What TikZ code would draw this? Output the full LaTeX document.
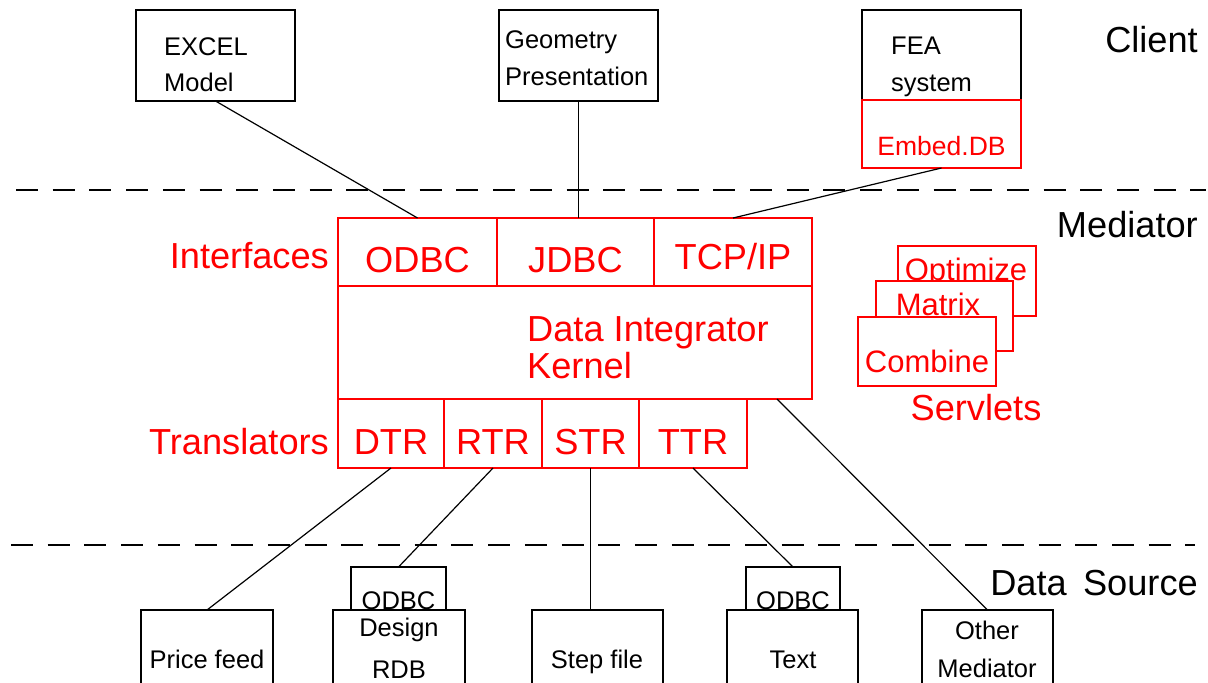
\documentclass[tikz,border=0pt]{standalone}
\usepackage{fontspec}
\setmainfont{Liberation Sans}
\definecolor{dired}{RGB}{255,0,0}
\begin{document}
\begin{tikzpicture}[x=1pt,y=-1pt,
  box/.style={draw=black,line width=1.3pt,anchor=north west,inner sep=0pt,outer sep=0pt},
  rbox/.style={box,draw=dired,fill=white},
  wbox/.style={box,fill=white},
  big/.style={font=\fontsize{36.2}{40}\selectfont},
  small/.style={font=\fontsize{25.5}{30}\selectfont},
  mid/.style={font=\fontsize{31}{34}\selectfont},
  emb/.style={font=\fontsize{26.5}{30}\selectfont},
  lbl/.style={inner sep=0pt,anchor=base},
  lblw/.style={inner sep=0pt,anchor=base west},
  lble/.style={inner sep=0pt,anchor=base east},
  rtext/.style={text=dired},
  conn/.style={line width=1.2pt,draw=black},
  sep/.style={line width=1.3pt,draw=black,dash pattern=on 22pt off 14.7pt}
]
\useasboundingbox (0,0) rectangle (1208,683);
\fill[white] (0,0) rectangle (1208,683);
\clip (0,0) rectangle (1208,683);

% ---------- client tier ----------
\node[box,minimum width=159pt,minimum height=91pt] (excel) at (136,10) {};
\node[lblw,small] (excelA) at (164,55) {EXCEL};
\node[lblw,small] (excelB) at (164,91) {Model};

\node[box,minimum width=159pt,minimum height=91pt] (geo) at (499,10) {};
\node[lblw,small] (geoA) at (505,48) {Geometry};
\node[lblw,small] (geoB) at (505,85) {Presentation};

\node[box,minimum width=159pt,minimum height=90pt] (fea) at (862,10) {};
\node[lblw,small] (feaA) at (891,54) {FEA};
\node[lblw,small] (feaB) at (891,91) {system};
\node[box,draw=dired,minimum width=159pt,minimum height=68pt] (embed) at (862,100) {};
\node[lbl,emb,rtext] (embedT) at (941.5,155) {Embed.DB};

\node[lble,big] (tierC) at (1198,52) {Client};

% ---------- tier separators ----------
\coordinate (d1a) at (16,190);
\coordinate (d1b) at (1206,190);
\coordinate (d2a) at (11,545);
\coordinate (d2b) at (1195,545);
\draw[sep] (d1a) -- (d1b);
\draw[sep] (d2a) -- (d2b);

\node[lble,big] (tierM) at (1198,237) {Mediator};
\node[lble,big] (tierD) at (1198,595) {Data\hspace{0.45em}Source};

% ---------- mediator: interfaces ----------
\node[rbox,minimum width=159pt,minimum height=68pt] (iodbc) at (338,218) {};
\node[rbox,minimum width=157pt,minimum height=68pt] (ijdbc) at (497,218) {};
\node[rbox,minimum width=158pt,minimum height=68pt] (itcp) at (654,218) {};
\node[lbl,big,rtext] (iodbcT) at (417.5,272) {ODBC};
\node[lbl,big,rtext] (ijdbcT) at (575.5,272) {JDBC};
\node[lbl,big,rtext] (itcpT) at (733,269) {TCP/IP};
\node[lble,big,rtext] (ifaceL) at (329,268) {Interfaces};

% ---------- mediator: kernel ----------
\node[rbox,minimum width=474pt,minimum height=113pt] (kernel) at (338,286) {};
\node[lblw,big,rtext] (kernA) at (527,341) {Data Integrator};
\node[lblw,big,rtext] (kernB) at (527,378) {Kernel};

% ---------- mediator: translators ----------
\node[rbox,minimum width=106pt,minimum height=69pt] (dtr) at (338,399) {};
\node[rbox,minimum width=98pt,minimum height=69pt] (rtr) at (444,399) {};
\node[rbox,minimum width=97pt,minimum height=69pt] (str) at (542,399) {};
\node[rbox,minimum width=108pt,minimum height=69pt] (ttr) at (639,399) {};
\node[lbl,big,rtext] (dtrT) at (391,454) {DTR};
\node[lbl,big,rtext] (rtrT) at (493,454) {RTR};
\node[lbl,big,rtext] (strT) at (590.5,454) {STR};
\node[lbl,big,rtext] (ttrT) at (693,454) {TTR};
\node[lble,big,rtext] (transL) at (329,454) {Translators};

% ---------- servlets (stacked) ----------
\node[rbox,minimum width=138pt,minimum height=70pt] (sopt) at (898,246) {};
\node[lbl,mid,rtext] (soptT) at (966,280) {Optimize};
\node[rbox,minimum width=137pt,minimum height=70pt] (smat) at (876,281) {};
\node[lbl,mid,rtext] (smatT) at (938,315) {Matrix};
\node[rbox,minimum width=138pt,minimum height=69pt] (scomb) at (858,317) {};
\node[lbl,mid,rtext] (scombT) at (927,372) {Combine};
\node[lbl,big,rtext] (servL) at (976,420) {Servlets};

% ---------- data sources ----------
\node[wbox,minimum width=132pt,minimum height=100pt] (price) at (141,610) {};
\node[lbl,small] (priceT) at (207,668) {Price feed};

\node[wbox,minimum width=95pt,minimum height=44pt] (odbcA) at (351,567) {};
\node[lbl,small] (odbcAT) at (398.5,609) {ODBC};
\node[wbox,minimum width=132pt,minimum height=100pt] (design) at (333,610) {};
\node[lbl,small] (designA) at (399,636) {Design};
\node[lbl,small] (designB) at (399,678) {RDB};

\node[wbox,minimum width=131pt,minimum height=100pt] (step) at (532,610) {};
\node[lbl,small] (stepT) at (597,668) {Step file};

\node[wbox,minimum width=94pt,minimum height=44pt] (odbcB) at (746,567) {};
\node[lbl,small] (odbcBT) at (793,609) {ODBC};
\node[wbox,minimum width=131pt,minimum height=100pt] (textsrc) at (727,610) {};
\node[lbl,small] (textT) at (793,668) {Text};

\node[wbox,minimum width=131pt,minimum height=100pt] (other) at (922,610) {};
\node[lbl,small] (otherA) at (987,639) {Other};
\node[lbl,small] (otherB) at (987,677) {Mediator};

% ---------- connectors ----------
\draw[conn] (excel.south) -- (iodbc.north);
\draw[conn] (geo.south) -- (geo.south |- ijdbc.north);
\draw[conn] (embed.south) -- (itcp.north);
\draw[conn] (dtr.south) -- (price.north);
\draw[conn] (rtr.south) -- (odbcA.north);
\draw[conn] (str.south) -- (str.south |- step.north);
\draw[conn] (ttr.south) -- (odbcB.north);
\coordinate (kout) at (777,399);
\draw[conn] (kout) -- (other.north);
\end{tikzpicture}
\end{document}
